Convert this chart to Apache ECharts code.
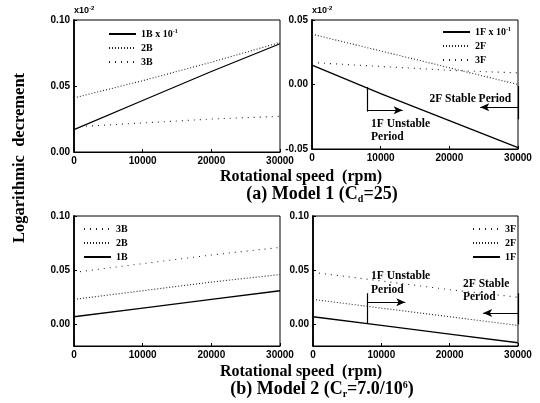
<!DOCTYPE html>
<html>
<head>
<meta charset="utf-8">
<script src="https://cdn.jsdelivr.net/npm/echarts@6/dist/echarts.min.js"></script>
<style>html,body{margin:0;padding:0;background:#fff}#c{width:540px;height:403px}</style>
</head>
<body>
<div id="c"></div>
<script>
// ---- data ----
const speeds = [0, 10000, 20000, 30000];
const xTickLabels = [0, 10000, 20000, 30000];

// (a) Model 1, left panel (B modes)
const a1B = [0.017, 0.039, 0.061, 0.082];
const a2B = [0.041, 0.054, 0.068, 0.083];
const a3B = [0.019, 0.022, 0.025, 0.027];
// (a) Model 1, right panel (F modes)
const a1F = [0.015, -0.007, -0.028, -0.049];
const a2F = [0.039, 0.026, 0.013, 0.000];
const a3F = [0.017, 0.014, 0.011, 0.009];
// (b) Model 2, left panel
const b3B = [0.048, 0.056, 0.064, 0.071];
const b2B = [0.023, 0.031, 0.039, 0.046];
const b1B = [0.007, 0.015, 0.023, 0.031];
// (b) Model 2, right panel
const b3F = [0.048, 0.040, 0.032, 0.025];
const b2F = [0.023, 0.015, 0.007, -0.001];
const b1F = [0.007, -0.001, -0.009, -0.017];

// y tick labels
const yTicksAL = [0, 0.05, 0.10];
const yTicksAR = [-0.05, 0, 0.05];
const yTicksB = [0, 0.05, 0.10];

// annotations (data coordinates)
const annA_v1 = [[8000, -0.002], [8000, -0.021]];
const annA_arrowR = [[8000, -0.020], [13200, -0.020]];
const annA_v2 = [[30000, -0.001], [30000, -0.027]];
const annA_arrowL = [[30000, -0.0177], [24500, -0.0177]];
const annA_text = [[8600, -0.0252, '1F Unstable\nPeriod'], [17100, -0.0058, '2F Stable Period']];

const annB_v1 = [[8000, 0.0005], [8000, 0.0287]];
const annB_arrowR = [[8000, 0.0204], [13500, 0.0204]];
const annB_v2 = [[30000, 0.0287], [30000, 0.0]];
const annB_arrowL = [[30000, 0.0105], [24900, 0.0105]];
const annB_text = [[8500, 0.0505, '1F Unstable\nPeriod'], [21950, 0.0435, '2F Stable\nPeriod']];

// ---- chart ----
const SERIF = '"Liberation Serif", "Times New Roman", serif';
const SANS = '"Liberation Sans", Arial, sans-serif';
const styles = {
  solid: {color: '#000', width: 1.3, type: 'solid'},
  dense: {color: '#222', width: 1.1, type: [1, 2]},
  sparse: {color: '#222', width: 1.1, type: [1, 5]}
};

function mkSeries(name, vals, g, st) {
  return {
    type: 'line', name: name, xAxisIndex: g, yAxisIndex: g,
    data: speeds.map((s, i) => [s, vals[i]]),
    symbol: 'none', silent: true, lineStyle: styles[st], itemStyle: {color: '#000'}
  };
}

function seg(pts, arrow) {
  return [{coord: pts[0], symbol: 'none'}, {coord: pts[1], symbol: arrow ? 'arrow' : 'none'}];
}
function ann(v1, arR, v2, arL, texts) {
  return {
    markLine: {
      silent: true, animation: false, symbol: ['none', 'none'], symbolSize: [6, 9],
      label: {show: false}, lineStyle: {color: '#000', width: 1.2, type: 'solid'},
      emphasis: {disabled: true},
      data: [seg(v1, false), seg(arR, true), seg(v2, false), seg(arL, true)]
    },
    markPoint: {
      silent: true, animation: false, symbol: 'rect', symbolSize: 0,
      label: {show: true, position: [0, 0], align: 'left', verticalAlign: 'top',
        fontFamily: SERIF, fontWeight: 'bold', fontSize: 11.5, lineHeight: 13.5, color: '#000',
        formatter: p => p.data.txt},
      data: texts.map(t => ({coord: [t[0], t[1]], txt: t[2]}))
    }
  };
}

const grids = [
  {left: 74, top: 20, width: 206, height: 132},
  {left: 312, top: 20, width: 206, height: 129},
  {left: 74, top: 216, width: 206, height: 130},
  {left: 313, top: 216, width: 205, height: 130}
].map(g => Object.assign(g, {show: true, borderColor: '#000', borderWidth: 1, backgroundColor: 'transparent'}));

const xAxes = [0, 1, 2, 3].map(i => ({
  type: 'value', gridIndex: i, min: 0, max: 30000, interval: 10000,
  splitLine: {show: false},
  axisLine: {show: true, onZero: false, lineStyle: {color: '#000', width: 1.2}},
  axisTick: {show: true, inside: true, length: 3, lineStyle: {color: '#000'}, customValues: xTickLabels},
  axisLabel: {color: '#000', fontFamily: SANS, fontWeight: 'bold', fontSize: 10, margin: 4,
    customValues: xTickLabels, formatter: v => String(Math.round(v))}
}));

const yAxisCfg = [
  {min: 0, max: 0.10, ticks: yTicksAL, name: 'x10{s|-2}'},
  {min: -0.05, max: 0.05, ticks: yTicksAR, name: 'x10{s|-2}'},
  {min: -0.02, max: 0.10, ticks: yTicksB, name: ''},
  {min: -0.02, max: 0.10, ticks: yTicksB, name: ''}
];
const yAxes = yAxisCfg.map((c, i) => ({
  type: 'value', gridIndex: i, min: c.min, max: c.max,
  name: c.name, nameLocation: 'end', nameGap: 3,
  nameTextStyle: {align: 'left', color: '#000', fontFamily: SANS, fontWeight: 'bold', fontSize: 9,
    rich: {s: {fontSize: 6, fontFamily: SANS, fontWeight: 'bold', padding: [0, 0, 6, 0], color: '#000'}}},
  splitLine: {show: false},
  axisLine: {show: true, onZero: false, lineStyle: {color: '#000', width: 1.8}},
  axisTick: {show: true, inside: true, length: 3, lineStyle: {color: '#000'}, customValues: c.ticks},
  axisLabel: {color: '#000', fontFamily: SANS, fontWeight: 'bold', fontSize: 10, margin: 4,
    customValues: c.ticks, formatter: v => v.toFixed(2)}
}));

const series = [
  mkSeries('1B', a1B, 0, 'solid'),
  mkSeries('2B', a2B, 0, 'dense'),
  mkSeries('3B', a3B, 0, 'sparse'),
  Object.assign(mkSeries('1F', a1F, 1, 'solid'), ann(annA_v1, annA_arrowR, annA_v2, annA_arrowL, annA_text)),
  mkSeries('2F', a2F, 1, 'dense'),
  mkSeries('3F', a3F, 1, 'sparse'),
  mkSeries('3B', b3B, 2, 'sparse'),
  mkSeries('2B', b2B, 2, 'dense'),
  mkSeries('1B', b1B, 2, 'solid'),
  mkSeries('3F', b3F, 3, 'sparse'),
  mkSeries('2F', b2F, 3, 'dense'),
  Object.assign(mkSeries('1F', b1F, 3, 'solid'), ann(annB_v1, annB_arrowR, annB_v2, annB_arrowL, annB_text))
];

const legendText = {color: '#000', fontFamily: SERIF, fontWeight: 'bold', fontSize: 10, lineHeight: 10,
  rich: {s: {fontSize: 6, fontFamily: SERIF, fontWeight: 'bold', color: '#000', padding: [0, 0, 6, 0]}}};
const expFmt = n => n.charAt(0) === '1' ? n + ' x 10{s|-1}' : n;
function mkLegend(data, left, top, fmt) {
  return {
    data: data, left: left, top: top, orient: 'vertical', padding: 0,
    itemWidth: 27, itemHeight: 10, itemGap: 4, selectedMode: false,
    itemStyle: {color: 'rgba(0,0,0,0)', borderWidth: 0, opacity: 0},
    textStyle: legendText, formatter: fmt || (n => n)
  };
}
const legends = [
  mkLegend(['1B', '2B', '3B'], 108, 28, expFmt),
  mkLegend(['1F', '2F', '3F'], 442, 26, expFmt),
  mkLegend(['3B', '2B', '1B'], 83, 224),
  mkLegend(['3F', '2F', '1F'], 472, 224)
];

const subRich = {
  b: {fontFamily: SERIF, fontWeight: 'bold', fontSize: 18, fill: '#000'},
  sub: {fontFamily: SERIF, fontWeight: 'bold', fontSize: 10, padding: [10, 0, 0, 0], fill: '#000'},
  sup: {fontFamily: SERIF, fontWeight: 'bold', fontSize: 10, padding: [0, 0, 8, 0], fill: '#000'}
};
const graphic = [
  {type: 'text', x: 20, y: 158, rotation: Math.PI / 2,
    style: {text: 'Logarithmic  decrement', font: 'bold 16.5px ' + SERIF, fill: '#000', align: 'center', verticalAlign: 'middle'}},
  {type: 'text', x: 301, y: 177,
    style: {text: 'Rotational speed  (rpm)', font: 'bold 16px ' + SERIF, fill: '#000', align: 'center', verticalAlign: 'middle'}},
  {type: 'text', x: 322, y: 194,
    style: {text: '{b|(a) Model 1 (C}{sub|d}{b|=25)}', rich: subRich, align: 'center', verticalAlign: 'middle'}},
  {type: 'text', x: 301, y: 372,
    style: {text: 'Rotational speed  (rpm)', font: 'bold 16px ' + SERIF, fill: '#000', align: 'center', verticalAlign: 'middle'}},
  {type: 'text', x: 322, y: 389,
    style: {text: '{b|(b) Model 2 (C}{sub|r}{b|=7.0/10}{sup|6}{b|)}', rich: subRich, align: 'center', verticalAlign: 'middle'}}
];

const chart = echarts.init(document.getElementById('c'), null, {renderer: 'canvas'});
chart.setOption({
  animation: false,
  backgroundColor: '#fff',
  grid: grids, xAxis: xAxes, yAxis: yAxes, legend: legends,
  series: series, graphic: graphic
});
</script>
</body>
</html>
